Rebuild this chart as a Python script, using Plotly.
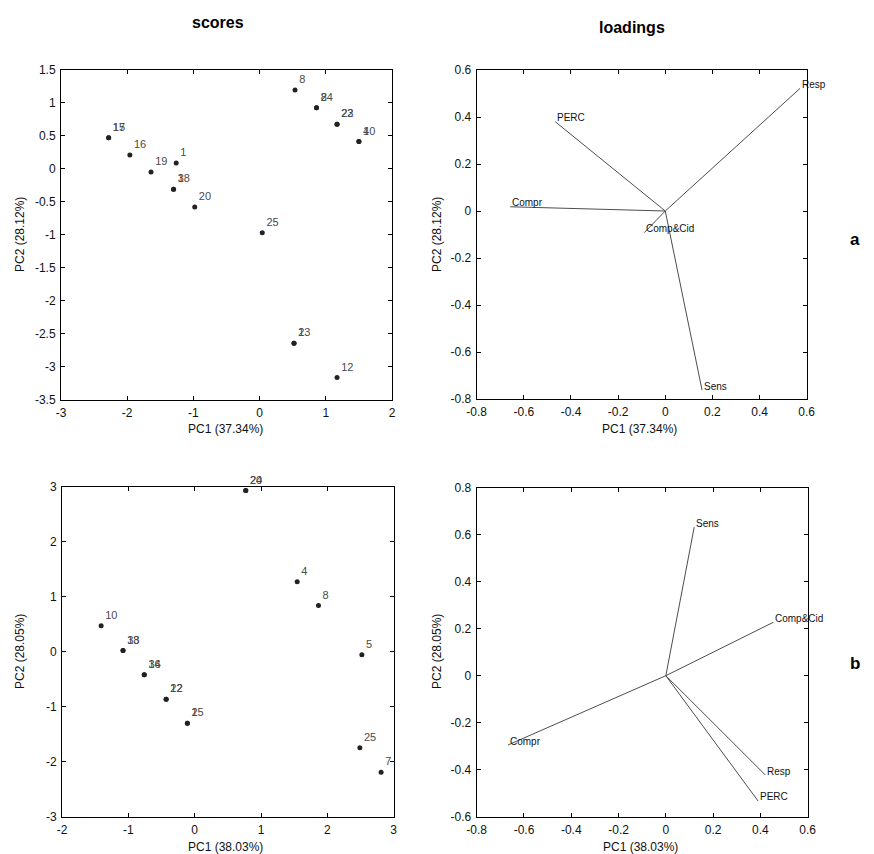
import plotly.graph_objects as go

# ---------------- data ----------------
# top row (a): scores
a_score_labels = ["15", "17", "16", "19", "1", "3", "18", "20", "8", "24", "8",
                  "22", "23", "4", "10", "25", "2", "13", "12"]
a_score_pc1 = [-2.28, -2.28, -1.96, -1.64, -1.26, -1.30, -1.30, -0.98, 0.535, 0.86, 0.86,
               1.17, 1.17, 1.50, 1.50, 0.04, 0.52, 0.52, 1.17]
a_score_pc2 = [0.467, 0.467, 0.206, -0.05, 0.085, -0.31, -0.31, -0.58, 1.19, 0.92, 0.92,
               0.67, 0.67, 0.41, 0.41, -0.97, -2.64, -2.64, -3.16]

# top row (a): loadings
a_load_vars = ["Resp", "PERC", "Compr", "Comp&Cid", "Sens"]
a_load_pc1 = [0.572, -0.467, -0.658, -0.089, 0.156]
a_load_pc2 = [0.522, 0.38, 0.018, -0.092, -0.762]

# bottom row (b): scores
b_score_labels = ["20", "24", "4", "8", "10", "33", "18", "16", "34", "12", "22",
                  "2", "15", "5", "25", "7"]
b_score_pc1 = [0.77, 0.77, 1.545, 1.866, -1.41, -1.08, -1.08, -0.76, -0.76, -0.43, -0.43,
               -0.11, -0.11, 2.52, 2.49, 2.81]
b_score_pc2 = [2.93, 2.93, 1.27, 0.84, 0.47, 0.02, 0.02, -0.42, -0.42, -0.865, -0.865,
               -1.30, -1.30, -0.055, -1.745, -2.19]

# bottom row (b): loadings
b_load_vars = ["Sens", "Comp&Cid", "Compr", "Resp", "PERC"]
b_load_pc1 = [0.12, 0.454, -0.668, 0.421, 0.39]
b_load_pc2 = [0.632, 0.227, -0.295, -0.4226, -0.533]

# axis labels / ticks
a_x_title = "PC1 (37.34%)"
a_y_title = "PC2 (28.12%)"
b_x_title = "PC1 (38.03%)"
b_y_title = "PC2 (28.05%)"

a_score_xticks = [-3, -2, -1, 0, 1, 2]
a_score_yticks = [1.5, 1, 0.5, 0, -0.5, -1, -1.5, -2, -2.5, -3, -3.5]
b_score_xticks = [-2, -1, 0, 1, 2, 3]
b_score_yticks = [3, 2, 1, 0, -1, -2, -3]
load_xticks = [-0.8, -0.6, -0.4, -0.2, 0, 0.2, 0.4, 0.6]
a_load_yticks = [0.6, 0.4, 0.2, 0, -0.2, -0.4, -0.6, -0.8]
b_load_yticks = [0.8, 0.6, 0.4, 0.2, 0, -0.2, -0.4, -0.6]


def fmt(v):
    return ("%g" % v).replace("\u2212", "-")


W, H = 874, 854
FONT = "Liberation Sans, Arial, sans-serif"


def px_x(p):
    return p / W


def px_y(p):
    return 1 - p / H


fig = go.Figure()


def add_scores(xs, ys, labels, xa, ya):
    fig.add_trace(go.Scatter(
        x=xs, y=ys, mode="markers+text", text=labels, textposition="top right",
        textfont=dict(family=FONT, size=11, color="#4a4a4a"),
        marker=dict(color="#222222", size=5),
        xaxis=xa, yaxis=ya, cliponaxis=False, showlegend=False, hoverinfo="skip"))


def add_loadings(xs, ys, names, xa, ya):
    for x, y, n in zip(xs, ys, names):
        fig.add_trace(go.Scatter(
            x=[0, x], y=[0, y], mode="lines",
            line=dict(color="#4d4d4d", width=1),
            xaxis=xa, yaxis=ya, showlegend=False, hoverinfo="skip"))
        fig.add_annotation(
            x=x, y=y, xref=xa, yref=ya, text=n, showarrow=False,
            xanchor="left", yanchor="middle", xshift=0, yshift=4,
            font=dict(family=FONT, size=10, color="#111111"))


add_scores(a_score_pc1, a_score_pc2, a_score_labels, "x", "y")
add_loadings(a_load_pc1, a_load_pc2, a_load_vars, "x2", "y2")
add_scores(b_score_pc1, b_score_pc2, b_score_labels, "x3", "y3")
add_loadings(b_load_pc1, b_load_pc2, b_load_vars, "x4", "y4")


def axis(domain, rng, ticks, anchor):
    return dict(
        domain=domain, range=rng, tickvals=ticks, ticktext=[fmt(t) for t in ticks],
        ticks="inside", ticklen=4, tickcolor="#000000", tickwidth=1,
        showline=True, linecolor="#000000", linewidth=1, mirror="ticks",
        showgrid=False, zeroline=False, anchor=anchor, ticklabelstandoff=2,
        automargin=False,
        tickfont=dict(family=FONT, size=12, color="#111111"), fixedrange=True)


# panel pixel boxes (left, top, right, bottom)
P1 = (61, 69.5, 392, 400)
P2 = (476.7, 70, 806.7, 399)
P3 = (62, 486.7, 393.7, 816.7)
P4 = (476.7, 487.7, 807.7, 816.7)


def dx(p):
    return [px_x(p[0]), px_x(p[2])]


def dy(p):
    return [px_y(p[3]), px_y(p[1])]


fig.update_layout(
    width=W, height=H, autosize=False,
    margin=dict(l=0, r=0, t=0, b=0, pad=0, autoexpand=False),
    paper_bgcolor="white", plot_bgcolor="white", showlegend=False,
    xaxis=axis(dx(P1), [-3, 2], a_score_xticks, "y"),
    yaxis=axis(dy(P1), [-3.5, 1.5], a_score_yticks, "x"),
    xaxis2=axis(dx(P2), [-0.8, 0.6], load_xticks, "y2"),
    yaxis2=axis(dy(P2), [-0.8, 0.6], a_load_yticks, "x2"),
    xaxis3=axis(dx(P3), [-2, 3], b_score_xticks, "y3"),
    yaxis3=axis(dy(P3), [-3, 3], b_score_yticks, "x3"),
    xaxis4=axis(dx(P4), [-0.8, 0.6], load_xticks, "y4"),
    yaxis4=axis(dy(P4), [-0.6, 0.8], b_load_yticks, "x4"),
)


def text(xp, yp, s, size=12, bold=False, angle=0, color="#111111"):
    fig.add_annotation(
        x=px_x(xp), y=px_y(yp), xref="paper", yref="paper",
        text=("<b>%s</b>" % s) if bold else s, showarrow=False,
        xanchor="center", yanchor="middle", textangle=angle,
        font=dict(family=FONT, size=size, color=color))


# column / row headings
text(218, 22, "scores", size=16, bold=True, color="#000000")
text(632, 27, "loadings", size=16, bold=True, color="#000000")
text(855, 240, "a", size=17, bold=True, color="#000000")
text(855, 663, "b", size=17, bold=True, color="#000000")

# axis titles
text(225, 429, a_x_title)
text(639, 429, a_x_title)
text(225, 846.5, b_x_title)
text(640, 846.5, b_x_title)
text(20, 235, a_y_title, angle=-90)
text(437, 235, a_y_title, angle=-90)
text(20, 652, b_y_title, angle=-90)
text(437, 652, b_y_title, angle=-90)

fig.write_html(
    "out.html",
    config={"displayModeBar": False, "staticPlot": True},
    post_script="document.body.style.margin='0';document.body.style.overflow='hidden';",
)
